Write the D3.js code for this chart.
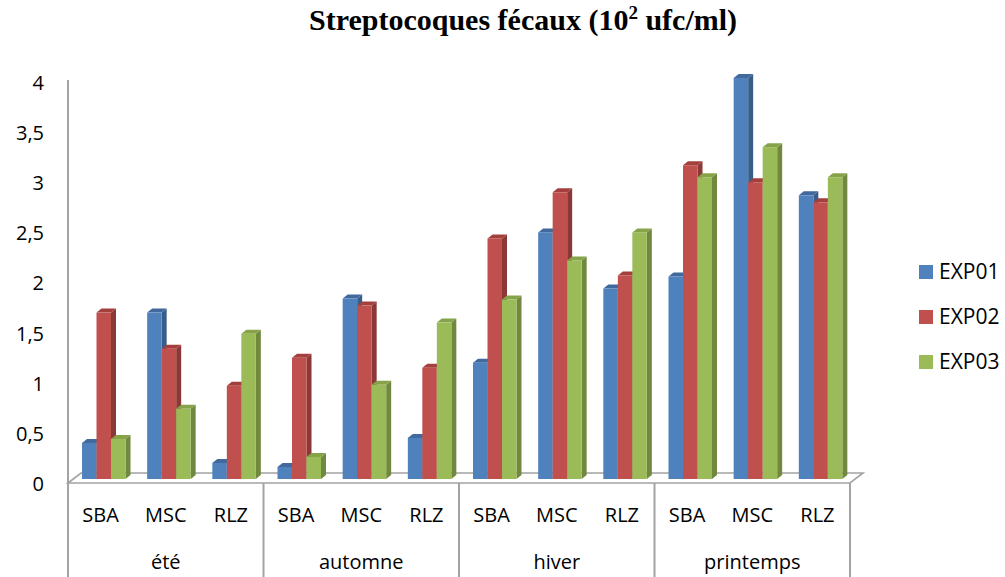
<!DOCTYPE html>
<html>
<head>
<meta charset="utf-8">
<script src="https://cdn.jsdelivr.net/npm/d3@7"></script>
<style>
  html, body { margin: 0; padding: 0; background: #ffffff; }
  svg { display: block; }
  .tick text { font-family: "Open Sans", sans-serif; }
</style>
</head>
<body>
<script>
// Sites and seasons (two-level category axis)
const seasons = ["été", "automne", "hiver", "printemps"];
const sites = ["SBA", "MSC", "RLZ"];
const seriesNames = ["EXP01", "EXP02", "EXP03"];
const seriesColors = ["#4f81bd", "#c0504d", "#9bbb59"];
const sideColors = ["#385d8a", "#8c3836", "#71893f"];
const topColors = ["#41699d", "#a3403d", "#86a34a"];

// Values per series, ordered été SBA/MSC/RLZ, automne ..., hiver ..., printemps ...
const exp01 = [0.36, 1.66, 0.16, 0.12, 1.80, 0.41, 1.16, 2.46, 1.90, 2.02, 4.00, 2.83];
const exp02 = [1.66, 1.30, 0.93, 1.21, 1.73, 1.11, 2.40, 2.86, 2.03, 3.13, 2.96, 2.76];
const exp03 = [0.40, 0.70, 1.45, 0.22, 0.94, 1.56, 1.79, 2.18, 2.46, 3.01, 3.31, 3.01];
const yTicks = [0, 0.5, 1, 1.5, 2, 2.5, 3, 3.5, 4];

const seriesValues = [exp01, exp02, exp03];
const categories = [];
seasons.forEach(s => sites.forEach(t => categories.push(s + "|" + t)));

const W = 1005, H = 577;
const svg = d3.select("body").append("svg").attr("width", W).attr("height", H);

// Geometry of the pseudo-3D floor
const left = 68, right = 850;
const floorFront = 483, floorBack = 473, depthX = 13;
const barBase = 479;          // bottom of the bar front faces
const dx = 5, dy = 4;         // bar depth offsets

const x0 = d3.scaleBand().domain(categories).range([left, right]);
const xs = d3.scaleBand().domain(seriesNames).range([0, 43.5]);
const groupOffset = 14;

// Bar front-face scale and label (front plane) scale
const y = d3.scaleLinear().domain([0, 4]).range([barBase, barBase - 401]);
const yAxisScale = d3.scaleLinear().domain([0, 4]).range([484, 83]);

const grey = "#a3a3a3";

// Floor parallelogram
svg.append("path")
  .attr("d", `M${left},${floorFront} L${left + depthX},${floorBack} L${right + depthX},${floorBack} L${right},${floorFront} Z`)
  .attr("fill", "none").attr("stroke", grey).attr("stroke-width", 1.6);

// Vertical axis line
svg.append("line")
  .attr("x1", left).attr("x2", left).attr("y1", 80).attr("y2", H)
  .attr("stroke", grey).attr("stroke-width", 2);

// Season separators on the category axis
const seasonBounds = seasons.map((s, i) => ({
  name: s,
  x1: x0(s + "|" + sites[0]),
  x2: x0(s + "|" + sites[2]) + x0.bandwidth()
}));
svg.selectAll("line.sep").data(seasonBounds).join("line")
  .attr("class", "sep")
  .attr("x1", d => d.x2).attr("x2", d => d.x2)
  .attr("y1", floorFront).attr("y2", H)
  .attr("stroke", grey).attr("stroke-width", 2);

// Y axis tick labels
const yAxis = d3.axisLeft(yAxisScale).tickValues(yTicks).tickSize(0).tickPadding(0)
  .tickFormat(d => String(d).replace(".", ","));
const gy = svg.append("g").attr("transform", "translate(44,0)").call(yAxis);
gy.select(".domain").remove();
gy.selectAll("text").attr("font-size", 20).attr("fill", "#000");

// Bars: front face, side and top for each series
const bars = [];
categories.forEach((c, ci) => {
  seriesNames.forEach((s, si) => {
    bars.push({ cat: c, series: s, si, value: seriesValues[si][ci] });
  });
});

const g = svg.append("g");
const barG = g.selectAll("g.bar").data(bars).join("g").attr("class", "bar");

barG.each(function(d) {
  const gb = d3.select(this);
  const x = x0(d.cat) + groupOffset + xs(d.series);
  const w = xs.bandwidth();
  const yt = y(d.value);
  const yb = y(0);
  // side face
  gb.append("path")
    .attr("d", `M${x + w},${yt} L${x + w + dx},${yt - dy} L${x + w + dx},${yb - dy} L${x + w},${yb} Z`)
    .attr("fill", sideColors[d.si]);
  // top face
  gb.append("path")
    .attr("d", `M${x},${yt} L${x + dx},${yt - dy} L${x + w + dx},${yt - dy} L${x + w},${yt} Z`)
    .attr("fill", topColors[d.si]);
  // front face
  gb.append("rect")
    .attr("x", x).attr("y", yt).attr("width", w).attr("height", yb - yt)
    .attr("fill", seriesColors[d.si]);
});

// Site labels
svg.selectAll("text.site").data(categories).join("text")
  .attr("class", "site")
  .attr("x", d => x0(d) + x0.bandwidth() / 2)
  .attr("y", 522)
  .attr("text-anchor", "middle")
  .attr("font-family", "Open Sans, sans-serif")
  .attr("font-size", 20)
  .text(d => d.split("|")[1]);

// Season labels
svg.selectAll("text.season").data(seasonBounds).join("text")
  .attr("class", "season")
  .attr("x", d => (d.x1 + d.x2) / 2)
  .attr("y", 569)
  .attr("text-anchor", "middle")
  .attr("font-family", "Open Sans, sans-serif")
  .attr("font-size", 20)
  .text(d => d.name);

// Legend
const legend = svg.selectAll("g.legend").data(seriesNames).join("g")
  .attr("class", "legend")
  .attr("transform", (d, i) => `translate(919,${265 + i * 45})`);
legend.append("rect").attr("width", 14).attr("height", 14)
  .attr("fill", (d, i) => seriesColors[i]);
legend.append("text").attr("x", 20).attr("y", 14)
  .attr("font-family", "Open Sans, sans-serif").attr("font-size", 21)
  .text(d => d);

// Title
const title = svg.append("text")
  .attr("x", 523).attr("y", 30)
  .attr("text-anchor", "middle")
  .attr("font-family", "Liberation Serif, Times New Roman, serif")
  .attr("font-weight", "bold")
  .attr("font-size", 30);
title.append("tspan").text("Streptocoques fécaux (10");
title.append("tspan").attr("dy", -11).attr("font-size", 19).text("2");
title.append("tspan").attr("dy", 11).text(" ufc/ml)");
</script>
</body>
</html>
